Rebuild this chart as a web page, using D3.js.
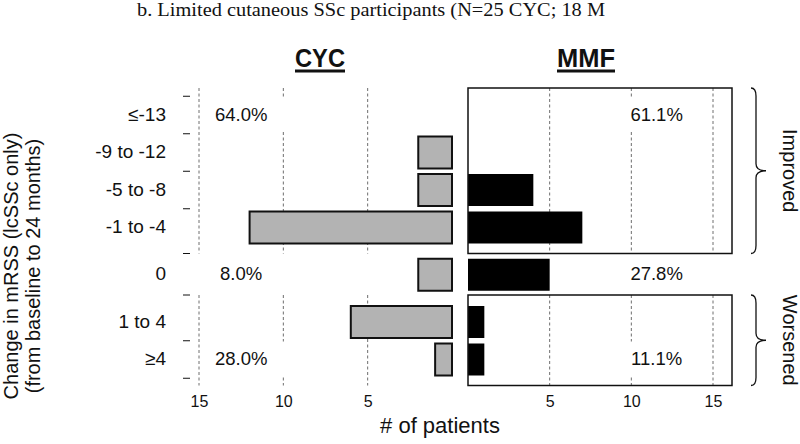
<!DOCTYPE html>
<html>
<head>
<meta charset="utf-8">
<script src="https://cdn.jsdelivr.net/npm/d3@7"></script>
<style>
  html, body { margin: 0; padding: 0; background: #fff; }
  svg { display: block; font-family: "Liberation Sans", Arial, sans-serif; }
</style>
</head>
<body>
<svg id="chart" width="800" height="444"></svg>
<script>
// ---------- data ----------
const categories = ["≤-13", "-9 to -12", "-5 to -8", "-1 to -4", "0", "1 to 4", "≥4"];
const groupIndex = [0, 0, 0, 0, 1, 2, 2];          // 0 = improved, 1 = no change, 2 = worsened
const cycCounts  = [0, 2, 2, 12, 2, 6, 1];         // N = 25
const mmfCounts  = [0, 0, 4, 7, 5, 1, 1];          // N = 18
const xTickValues = [5, 10, 15];
const braceLabels = ["Improved", "Worsened"];
const panelTitles = ["CYC", "MMF"];
const titleText = "b. Limited cutaneous SSc participants (N=25 CYC; 18 M";
const yTitleLines = ["Change in mRSS (lcSSc only)", "(from baseline to 24 months)"];
const xTitle = "# of patients";

// ---------- layout ----------
const svg = d3.select("#chart");
const GAP = 0.26;
const slot = i => i + groupIndex[i] * GAP;
const y = d3.scaleLinear().domain([0, slot(categories.length - 1)]).range([115, 359.5]);
const pitch = y(1) - y(0);
const barH = 32;

const xL = d3.scaleLinear().domain([0, 15]).range([452, 199]);
const xR = d3.scaleLinear().domain([0, 15]).range([468, 713]);
const rightEdge = 732;

const padTop = 27, padBottom = 26;
const groupRows = [0, 1, 2].map(g => categories.map((c, i) => i).filter(i => groupIndex[i] === g));
const boxOf = g => {
  const rows = groupRows[g];
  return { top: y(slot(rows[0])) - padTop, bottom: y(slot(rows[rows.length - 1])) + padBottom };
};
const boxes = [boxOf(0), boxOf(2)];

// ---------- title ----------
svg.append("text")
  .attr("x", 137).attr("y", 16)
  .attr("font-family", "'Liberation Serif', 'Times New Roman', serif")
  .attr("font-size", 18.5)
  .attr("textLength", 468).attr("lengthAdjust", "spacingAndGlyphs")
  .attr("fill", "#111")
  .text(titleText);

// ---------- panel titles ----------
[[panelTitles[0], 320, 50], [panelTitles[1], 586, 58]].forEach(([t, cx, w]) => {
  svg.append("text")
    .attr("x", cx - w / 2).attr("y", 67)
    .attr("font-size", 26).attr("font-weight", "bold")
    .attr("textLength", w).attr("lengthAdjust", "spacingAndGlyphs")
    .attr("fill", "#111")
    .text(t);
  svg.append("line")
    .attr("x1", cx - w / 2).attr("x2", cx + w / 2)
    .attr("y1", 71).attr("y2", 71)
    .attr("stroke", "#111").attr("stroke-width", 3);
});

// ---------- gridlines ----------
const grid = svg.append("g").attr("stroke", "#6e6e6e").attr("stroke-width", 1).attr("stroke-dasharray", "3,2.5");
boxes.forEach(b => {
  xTickValues.forEach(v => {
    grid.append("line").attr("x1", xL(v)).attr("x2", xL(v)).attr("y1", b.top).attr("y2", b.bottom);
    grid.append("line").attr("x1", xR(v)).attr("x2", xR(v)).attr("y1", b.top).attr("y2", b.bottom);
  });
});

// ---------- percentage labels ----------
const labelRows = [groupRows[0][0], groupRows[1][0], groupRows[2][groupRows[2].length - 1]];
const totCYC = d3.sum(cycCounts), totMMF = d3.sum(mmfCounts);
const pct = (arr, tot, g) => (100 * d3.sum(groupRows[g], i => arr[i]) / tot).toFixed(1) + "%";
const pctLayer = svg.append("g");
[0, 1, 2].forEach(g => {
  [[cycCounts, totCYC, xL(12.5)], [mmfCounts, totMMF, xR(11.55)]].forEach(([arr, tot, px]) => {
    const gg = pctLayer.append("g");
    const bg = gg.append("rect").attr("fill", "#fff");
    const t = gg.append("text")
      .attr("x", px).attr("y", y(slot(labelRows[g])) - 1)
      .attr("text-anchor", "middle").attr("dominant-baseline", "central")
      .attr("font-size", 18.5).attr("fill", "#111")
      .text(pct(arr, tot, g));
    const bb = t.node().getBBox();
    bg.attr("x", bb.x - 8).attr("y", y(slot(labelRows[g])) - 18)
      .attr("width", bb.width + 28).attr("height", 35);
  });
});

// ---------- bars ----------
const cycG = svg.append("g");
cycCounts.forEach((d, i) => {
  if (d <= 0) return;
  cycG.append("rect")
    .attr("x", xL(d)).attr("width", xL(0) - xL(d))
    .attr("y", y(slot(i)) - barH / 2).attr("height", barH)
    .attr("fill", "#b3b3b3").attr("stroke", "#111").attr("stroke-width", 2);
});
const mmfG = svg.append("g");
mmfCounts.forEach((d, i) => {
  if (d <= 0) return;
  mmfG.append("rect")
    .attr("x", xR(0)).attr("width", xR(d) - xR(0))
    .attr("y", y(slot(i)) - barH / 2).attr("height", barH)
    .attr("fill", "#000");
});

// ---------- right boxes ----------
boxes.forEach(b => {
  svg.append("rect")
    .attr("x", xR(0)).attr("y", b.top)
    .attr("width", rightEdge - xR(0)).attr("height", b.bottom - b.top)
    .attr("fill", "none").attr("stroke", "#111").attr("stroke-width", 1.5);
});

// ---------- y axis (category labels + tick dashes) ----------
const yTickPos = [0, 1, 2, 3].map(i => y(slot(i)) - pitch / 2)
  .concat([boxes[0].bottom, boxes[1].top, y(slot(6)) - pitch / 2, y(slot(6)) + pitch / 2]);
const yAxisG = svg.append("g");
yTickPos.forEach(p => {
  yAxisG.append("line").attr("x1", 183).attr("x2", 190).attr("y1", p).attr("y2", p)
    .attr("stroke", "#111").attr("stroke-width", 1);
});
categories.forEach((c, i) => {
  yAxisG.append("text")
    .attr("x", 166).attr("y", y(slot(i)) - 1)
    .attr("text-anchor", "end").attr("dominant-baseline", "central")
    .attr("font-size", 19).attr("fill", "#111")
    .text(c);
});

// ---------- x axes ----------
const axL = svg.append("g").attr("transform", "translate(0,395)")
  .call(d3.axisBottom(xL).tickValues(xTickValues).tickSize(0).tickPadding(0));
const axR = svg.append("g").attr("transform", "translate(0,395)")
  .call(d3.axisBottom(xR).tickValues(xTickValues).tickSize(0).tickPadding(0));
[axL, axR].forEach(a => {
  a.select(".domain").remove();
  a.selectAll("text").attr("font-size", 16).attr("font-family", "'Liberation Sans', Arial, sans-serif")
    .attr("fill", "#111").attr("dy", "0.75em").attr("y", 0);
});

// ---------- axis titles ----------
svg.append("text")
  .attr("x", 440).attr("y", 433)
  .attr("text-anchor", "middle").attr("font-size", 22).attr("fill", "#111")
  .text(xTitle);

yTitleLines.forEach((t, k) => {
  svg.append("text")
    .attr("transform", `translate(${11 + k * 22},266) rotate(-90)`)
    .attr("text-anchor", "middle").attr("dominant-baseline", "central")
    .attr("font-size", 20).attr("fill", "#111")
    .text(t);
});

// ---------- braces ----------
const brace = (top, bottom, x0) => {
  const mid = (top + bottom) / 2, s = x0 + 5, tip = x0 + 15;
  return `M${x0},${top} Q${s},${top} ${s},${top + 8} L${s},${mid - 7} Q${s},${mid} ${tip},${mid}
          Q${s},${mid} ${s},${mid + 7} L${s},${bottom - 8} Q${s},${bottom} ${x0},${bottom}`;
};
boxes.forEach((b, k) => {
  svg.append("path").attr("d", brace(b.top, b.bottom, 751))
    .attr("fill", "none").attr("stroke", "#111").attr("stroke-width", 1.3);
  svg.append("text")
    .attr("transform", `translate(790,${(b.top + b.bottom) / 2}) rotate(90)`)
    .attr("text-anchor", "middle").attr("dominant-baseline", "central")
    .attr("font-size", 20).attr("fill", "#111")
    .text(braceLabels[k]);
});
</script>
</body>
</html>
